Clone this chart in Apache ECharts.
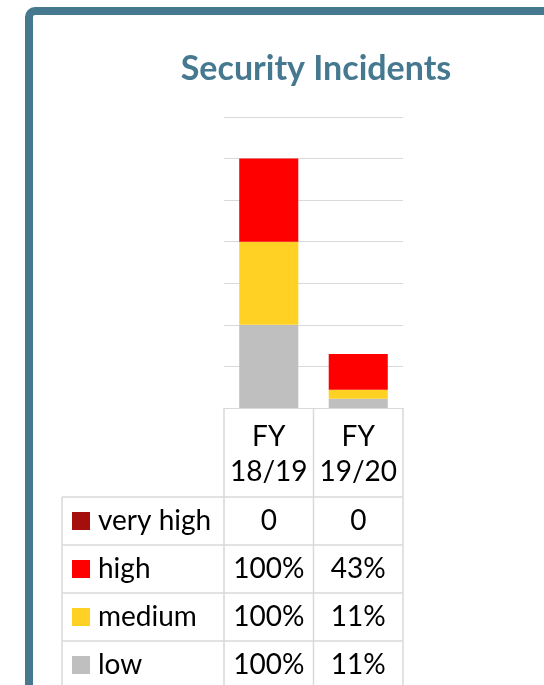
<!DOCTYPE html>
<html>
<head>
<meta charset="utf-8">
<script src="https://cdn.jsdelivr.net/npm/echarts@6/dist/echarts.min.js"></script>
<style>
    html, body { margin: 0; padding: 0; background: #fff; }
    #chart1 { width: 544px; height: 685px; }
</style>
</head>
<body>
<div id="chart1"></div>
<script>
// categories (one column of the data table each)
var years = ['FY\n18/19', 'FY\n19/20'];

// severity levels, bottom of the stack first
var levels = ['low', 'medium', 'high', 'very high'];
var levelColors = ['#bfbfbf', '#ffd125', '#ff0000', '#a50f0b'];

// values per level, same order as years
var lowVals = [1, 0.11];
var mediumVals = [1, 0.11];
var highVals = [1, 0.43];
var veryHighVals = [0, 0];

var font = 'Lato, "Noto Sans", sans-serif';
var gridColor = '#d9d9d9';

var myChart = echarts.init(document.getElementById('chart1'));

function fmt(v) {
    // the data table shows a plain 0, everything else as percent
    return v === 0 ? '0' : Math.round(v * 100) + '%';
}

var seriesVals = [lowVals, mediumVals, highVals, veryHighVals];
var series = levels.map(function(name, i) {
    return {
        name: name,
        type: 'bar',
        stack: 'all',
        barWidth: '66%',
        itemStyle: { color: levelColors[i] },
        data: seriesVals[i]
    };
});

var option = {
    animation: false,
    backgroundColor: '#fff',
    title: {
        text: 'Security Incidents',
        left: 311,
        top: 47,
        textAlign: 'center',
        textStyle: { fontFamily: font, fontSize: 34, fontWeight: 'bold', color: '#467890' }
    },
    grid: { left: 224, right: 141, top: 117, bottom: 277 },
    xAxis: {
        type: 'category',
        data: years,
        axisLine: { show: true, lineStyle: { color: gridColor, width: 1 } },
        axisTick: { show: false },
        axisLabel: { show: false }
    },
    yAxis: {
        type: 'value',
        min: 0,
        max: 3.5,
        interval: 0.5,
        axisLine: { show: false },
        axisTick: { show: false },
        axisLabel: { show: false },
        splitLine: { lineStyle: { color: gridColor, width: 1 } }
    },
    series: series
};

myChart.setOption(option);

// data table under the plot, laid out from the category axis
function buildTable() {
    var c0 = myChart.convertToPixel({ xAxisIndex: 0 }, years[0]);
    var c1 = myChart.convertToPixel({ xAxisIndex: 0 }, years[1]);
    var band = c1 - c0;
    var axisY = myChart.convertToPixel({ yAxisIndex: 0 }, 0);
    var colLeft = c0 - band / 2;
    var colRight = c1 + band / 2;
    var labelLeft = 62;
    var headH = 89;
    var rowH = 48;
    var els = [];
    var lineStyle = { stroke: gridColor, lineWidth: 1.5 };

    function line(x1, y1, x2, y2) {
        els.push({ type: 'line', shape: { x1: x1, y1: y1, x2: x2, y2: y2 }, style: lineStyle, silent: true });
    }
    function text(str, x, y, align) {
        els.push({
            type: 'text', x: x, y: y,
            style: { text: str, fill: '#000', font: '28px ' + font, align: align, verticalAlign: 'middle', lineHeight: 35 }
        });
    }

    var bodyTop = axisY + headH;
    var rows = levels.slice().reverse();
    var bottom = bodyTop + rowH * rows.length + 10;

    // header cells
    line(colLeft, axisY, colLeft, bottom);
    line(c0 + band / 2, axisY, c0 + band / 2, bottom);
    line(colRight, axisY, colRight, bottom);
    line(labelLeft, bodyTop, labelLeft, bottom);
    years.forEach(function(y, i) {
        var cx = i === 0 ? c0 : c1;
        text(y, cx, axisY + headH / 2 + 2, 'center');
    });

    rows.forEach(function(name, r) {
        var idx = levels.indexOf(name);
        var top = bodyTop + rowH * r;
        var cy = top + rowH / 2;
        line(labelLeft, top, colRight, top);
        els.push({
            type: 'rect',
            shape: { x: 72, y: cy - 9, width: 18, height: 18 },
            style: { fill: levelColors[idx] },
            silent: true
        });
        text(name, 98, cy, 'left');
        text(fmt(seriesVals[idx][0]), c0, cy, 'center');
        text(fmt(seriesVals[idx][1]), c1, cy, 'center');
    });

    // outer frame of the card
    els.push({
        type: 'rect',
        shape: { x: 29, y: 11, width: 700, height: 900, r: 6 },
        style: { fill: null, stroke: '#467890', lineWidth: 8 },
        silent: true
    });

    myChart.setOption({ graphic: { elements: els } });
}

buildTable();
</script>
</body>
</html>
